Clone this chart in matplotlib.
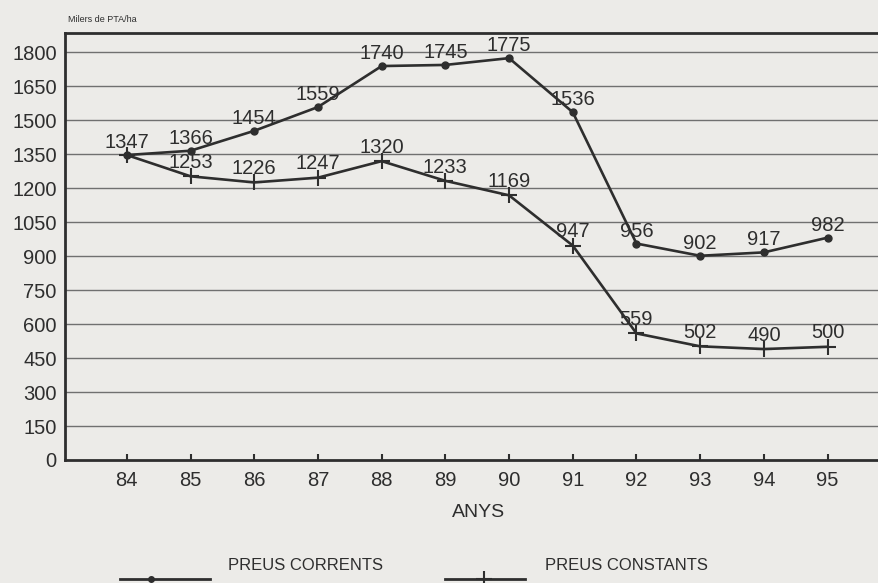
import matplotlib.pyplot as plt
from matplotlib.lines import Line2D

years = [84, 85, 86, 87, 88, 89, 90, 91, 92, 93, 94, 95]
preus_corrents = [1347, 1366, 1454, 1559, 1740, 1745, 1775, 1536, 956, 902, 917, 982]
preus_constants = [1347, 1253, 1226, 1247, 1320, 1233, 1169, 947, 559, 502, 490, 500]
y_ticks = list(range(0, 1801, 150))

plt.rcParams["font.family"] = ["Liberation Sans", "DejaVu Sans"]
ink = "#2e2e2e"
paper = "#ecebe8"
fs = 14.5

fig = plt.figure(figsize=(8.79, 5.83), dpi=100, facecolor=paper)
ax = fig.add_axes([0.074, 0.211, 0.94, 0.732])
ax.set_facecolor(paper)

ax.set_ylim(0, 1885)
ax.set_xlim(83.03, 96.0)
ax.set_yticks(y_ticks)
ax.set_xticks(years)
for v in y_ticks[1:]:
    ax.axhline(v, color="#707070", lw=1.0, zorder=1)

ax.plot(years, preus_corrents, color=ink, lw=1.9, marker="o", ms=5, zorder=3)
ax.plot(years, preus_constants, color=ink, lw=1.9, marker="+", ms=11, mew=1.5, zorder=3)

# value labels (first constant label is shared with the current series)
for x, v in zip(years, preus_corrents):
    ax.annotate(str(v), (x, v), xytext=(0, 5), textcoords="offset points",
                ha="center", va="baseline", fontsize=fs, color=ink)
for x, v in zip(years[1:], preus_constants[1:]):
    ax.annotate(str(v), (x, v), xytext=(0, 6), textcoords="offset points",
                ha="center", va="baseline", fontsize=fs, color=ink)

for s in ["left", "bottom", "top"]:
    ax.spines[s].set_color(ink)
    ax.spines[s].set_linewidth(2)
ax.spines["right"].set_visible(False)

ax.tick_params(axis="y", length=0, pad=6, labelsize=fs, labelcolor=ink)
ax.tick_params(axis="x", direction="in", length=4.5, width=1.5, color=ink,
               pad=8, labelsize=fs, labelcolor=ink)
ax.set_xlabel("ANYS", fontsize=14, color=ink, labelpad=10)

fig.text(0.077, 0.967, "Milers de PTA/ha", fontsize=6.5, color=ink, va="center")

# legend drawn by hand at the bottom
leg_y = 0.007
fig.add_artist(Line2D([0.137, 0.239], [leg_y, leg_y], color=ink, lw=2))
fig.add_artist(Line2D([0.172], [leg_y], color=ink, marker="o", ms=4))
fig.text(0.259, 0.030, "PREUS CORRENTS", fontsize=12, color=ink, va="center")
fig.add_artist(Line2D([0.506, 0.597], [leg_y, leg_y], color=ink, lw=2))
fig.add_artist(Line2D([0.551], [leg_y], color=ink, marker="+", ms=11, mew=1.5))
fig.text(0.620, 0.030, "PREUS CONSTANTS", fontsize=12, color=ink, va="center")

fig.savefig("out.png", dpi=100, facecolor=paper)
